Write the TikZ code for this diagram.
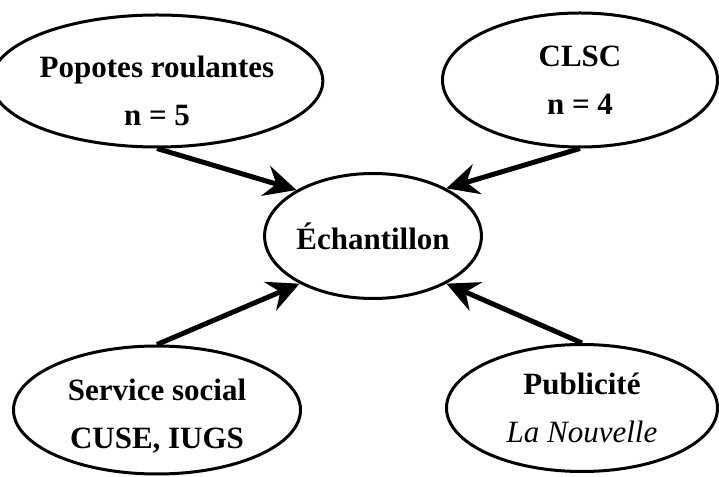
\documentclass[tikz,border=0pt]{standalone}
\usepackage{fontspec}
\setmainfont{Liberation Serif}
\usetikzlibrary{arrows.meta,shapes.geometric}

\begin{document}
\begin{tikzpicture}[x=1pt, y=1pt,
		source/.style={ellipse, draw, line width=3pt, inner sep=0pt, align=center,
			font=\fontsize{31}{48}\selectfont\bfseries},
		feed/.style={line width=5pt, -{Stealth[length=32pt,width=31pt,inset=11pt]}}]
		%%%%% START %%%%%
		
		\useasboundingbox (0, 0) rectangle (719, 476);
		
		\node[source, minimum width=200, minimum height=125] (ech) at (373, 240) {Échantillon};
		
		\node[source, minimum width=290, minimum height=132, text height=89pt] (pop) at (157, 395) {Popotes roulantes\\n = 5};
		\node[source, minimum width=275, minimum height=134] (clsc) at (580, 396) {CLSC\\n = 4};
		\node[source, minimum width=287, minimum height=128, text height=82pt] (serv) at (157, 66) {Service social\\CUSE, IUGS};
		\node[source, minimum width=271, minimum height=127] (pub) at (582, 68) {Publicité\\{\mdseries\itshape La Nouvelle}};
		
		\draw[feed] (pop.south) -- (ech.149);
		\draw[feed] (clsc.south) -- (ech.33);
		\draw[feed] (serv.north) -- (ech.213);
		\draw[feed] (pub.north) -- (ech.327);
		
		%%%%% END %%%%%
	\end{tikzpicture}
\end{document}
